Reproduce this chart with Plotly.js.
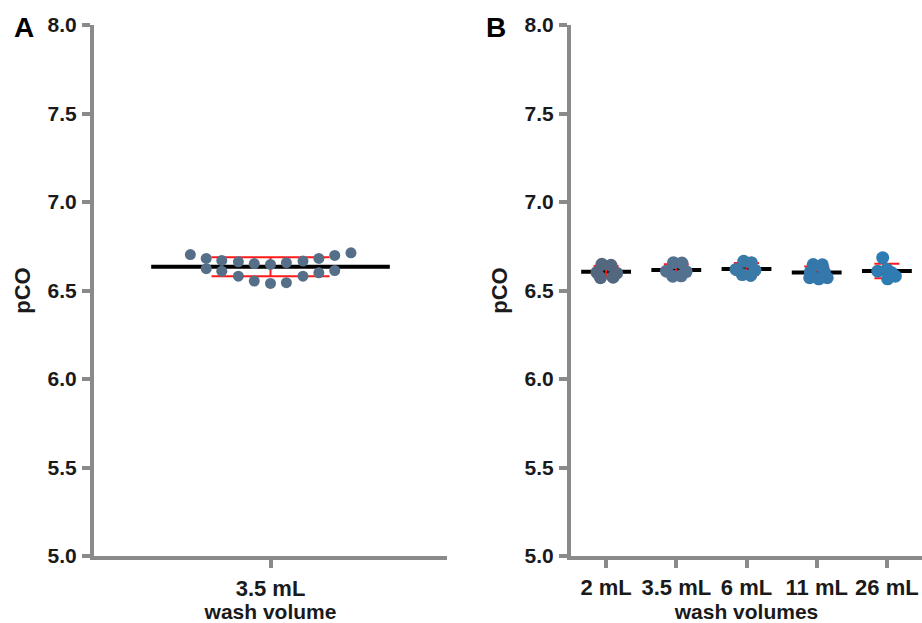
<!DOCTYPE html>
<html><head><meta charset="utf-8">
<script src="https://cdn.plot.ly/plotly-3.0.1.min.js"></script>
<style>html,body{margin:0;padding:0;background:#fff}#chart{width:922px;height:623px}</style>
</head><body><div id="chart"></div>
<script>
// ---- data ----
const panelACategories = ['3.5 mL'];
const panelAValues = [6.703, 6.681, 6.623, 6.670, 6.609, 6.662, 6.581, 6.652, 6.553, 6.647,
                      6.540, 6.657, 6.544, 6.666, 6.581, 6.681, 6.600, 6.698, 6.613, 6.713];
// beeswarm horizontal offsets (category units)
const panelAOffsets = [-0.227, -0.182, -0.182, -0.138, -0.138, -0.091, -0.091, -0.046, -0.046, 0,
                       0, 0.045, 0.045, 0.092, 0.092, 0.137, 0.137, 0.182, 0.182, 0.228];

const panelBCategories = ['2 mL', '3.5 mL', '6 mL', '11 mL', '26 mL'];
const values2mL   = [6.648, 6.642, 6.602, 6.598, 6.572, 6.575];
const values3_5mL = [6.657, 6.655, 6.609, 6.607, 6.581, 6.583];
const values6mL   = [6.665, 6.657, 6.619, 6.615, 6.590, 6.585];
const values11mL  = [6.647, 6.645, 6.605, 6.605, 6.572, 6.566, 6.572];
const values26mL  = [6.685, 6.609, 6.619, 6.600, 6.566, 6.581];
const offsets2mL   = [-0.06, 0.07, -0.13, 0.15, -0.08, 0.1];
const offsets3_5mL = [-0.04, 0.08, -0.14, 0.14, -0.05, 0.07];
const offsets6mL   = [-0.04, 0.07, -0.15, 0.12, -0.06, 0.06];
const offsets11mL  = [-0.05, 0.08, -0.09, 0.11, -0.1, 0.03, 0.15];
const offsets26mL  = [-0.06, -0.13, 0.0, 0.07, 0.01, 0.12];
const panelBValues = [values2mL, values3_5mL, values6mL, values11mL, values26mL];
const panelBOffsets = [offsets2mL, offsets3_5mL, offsets6mL, offsets11mL, offsets26mL];
const panelBColors = ['#53677e', '#557190', '#3b79a7', '#3478ab', '#2e7cb1'];
const panelAColor = '#566f89';

const yTicks = [5.0, 5.5, 6.0, 6.5, 7.0, 7.5, 8.0];

// ---- helpers ----
const mean = a => a.reduce((s, v) => s + v, 0) / a.length;
const sd = a => { const m = mean(a); return Math.sqrt(a.reduce((s, v) => s + (v - m) ** 2, 0) / (a.length - 1)); };

const FONT = 'Liberation Sans, Arial, Helvetica, sans-serif';
const traces = [];

function addGroup(center, vals, offs, color, xa, ya, lineHalf, capPx, msize) {
  const m = mean(vals), s = sd(vals);
  traces.push({x: [center - lineHalf, center + lineHalf], y: [m, m], xaxis: xa, yaxis: ya,
    mode: 'lines', line: {color: '#000', width: 4}, hoverinfo: 'skip', showlegend: false});
  traces.push({x: [center], y: [m], xaxis: xa, yaxis: ya, mode: 'markers',
    marker: {size: 1, color: 'rgba(0,0,0,0)'},
    error_y: {type: 'data', array: [s], color: '#ff1a1a', thickness: 2, width: capPx},
    showlegend: false, hoverinfo: 'skip'});
  traces.push({x: offs.map(o => center + o), y: vals, xaxis: xa, yaxis: ya, mode: 'markers',
    marker: {size: msize, color: color}, showlegend: false});
}

addGroup(0, panelAValues, panelAOffsets, panelAColor, 'x', 'y', 0.338, 59, 11);
panelBValues.forEach((vals, i) => addGroup(i, vals, panelBOffsets[i], panelBColors[i], 'x2', 'y2', 0.355, 12.5, 13));

const axisCommon = {
  showline: true, linecolor: '#8a8a8a', linewidth: 4, mirror: false,
  ticks: 'outside', ticklen: 8, tickwidth: 4, tickcolor: '#8a8a8a',
  showgrid: false, zeroline: false
};
const yTickFont = {family: FONT, size: 21, weight: 'bold', color: '#1a1a1a'};
const xTickFont = {family: FONT, size: 22, weight: 'bold', color: '#1a1a1a'};
const xTitleFont = {family: FONT, size: 21, weight: 'bold', color: '#1a1a1a'};
const yTitleFont = {family: FONT, size: 22, weight: 'bold', color: '#1a1a1a'};

const W = 922;
const layout = {
  width: 922, height: 623,
  margin: {l: 0, r: 0, t: 25, b: 67},
  paper_bgcolor: '#fff', plot_bgcolor: '#fff',
  showlegend: false,
  xaxis: Object.assign({}, axisCommon, {
    domain: [94 / W, 447 / W], range: [-0.5, 0.5], tickfont: xTickFont,
    tickvals: [0], ticktext: panelACategories, ticklabelstandoff: 2,
    title: {text: 'wash volume', font: xTitleFont, standoff: 18}
  }),
  yaxis: Object.assign({}, axisCommon, {
    anchor: 'x', range: [5, 8], tickvals: yTicks, tickformat: '.1f', tickfont: yTickFont,
    ticklabelstandoff: 1,
    title: {text: 'pCO', font: yTitleFont, standoff: 12}
  }),
  xaxis2: Object.assign({}, axisCommon, {
    domain: [571 / W, 1], range: [-0.5, 4.5], anchor: 'y2', tickfont: xTickFont,
    tickvals: panelBCategories.map((c, i) => i), ticktext: panelBCategories, ticklabelstandoff: 1,
    title: {text: 'wash volumes', font: xTitleFont, standoff: 18}
  }),
  yaxis2: Object.assign({}, axisCommon, {
    anchor: 'x2', range: [5, 8], tickvals: yTicks, tickformat: '.1f', tickfont: yTickFont,
    ticklabelstandoff: 1,
    title: {text: 'pCO', font: yTitleFont, standoff: 12}
  }),
  annotations: [
    {text: 'A', xref: 'paper', yref: 'paper', x: 24 / W, y: (556 - 28) / 531, xanchor: 'center', yanchor: 'middle',
     showarrow: false, font: {family: FONT, size: 28, weight: 'bold', color: '#000'}},
    {text: 'B', xref: 'paper', yref: 'paper', x: 496 / W, y: (556 - 28) / 531, xanchor: 'center', yanchor: 'middle',
     showarrow: false, font: {family: FONT, size: 28, weight: 'bold', color: '#000'}}
  ]
};

Plotly.newPlot('chart', traces, layout, {displayModeBar: false, staticPlot: true});
</script>
</body></html>
